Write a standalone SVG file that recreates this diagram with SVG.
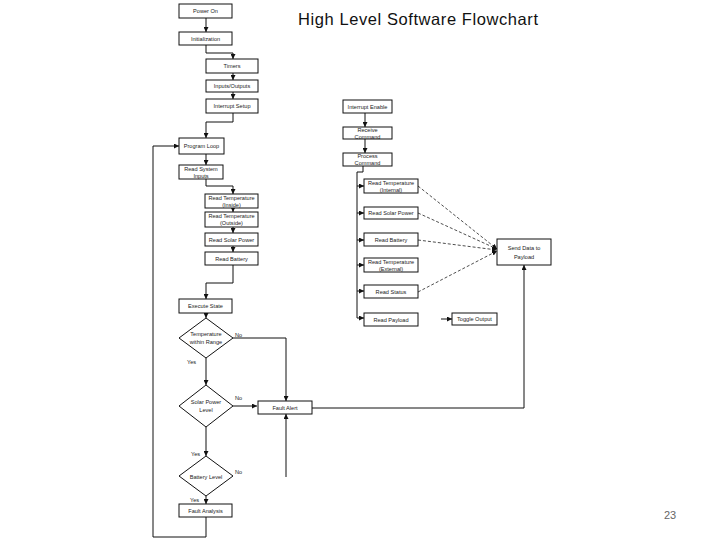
<svg xmlns="http://www.w3.org/2000/svg" width="720" height="540" viewBox="0 0 720 540">
<style>
  .box{fill:#fff;stroke:#111;stroke-width:1}
  .t{font-family:"Liberation Sans",Arial,sans-serif;font-size:5.6px;fill:#222;text-anchor:middle}
  .lbl{font-family:"Liberation Sans",Arial,sans-serif;font-size:5.6px;fill:#222}
  .c{fill:none;stroke:#111;stroke-width:1}
  .d{fill:none;stroke:#222;stroke-width:0.8;stroke-dasharray:3,2}
</style>
<defs>
  <marker id="a" viewBox="0 0 10 10" refX="10" refY="5" markerWidth="5" markerHeight="5" markerUnits="userSpaceOnUse" orient="auto">
    <path d="M0,0 L10,5 L0,10 z" fill="#111"/>
  </marker>
</defs>
<rect width="720" height="540" fill="#fff"/>
<text x="298" y="25" font-family="Liberation Sans,Arial,sans-serif" font-size="16.5" fill="#111" textLength="240">High Level Software Flowchart</text>
<text x="670" y="519" font-family="Liberation Sans,Arial,sans-serif" font-size="11" fill="#666" text-anchor="middle">23</text>

<g id="connectors">
  <path class="c" d="M206,18 V32" marker-end="url(#a)"/>
  <path class="c" d="M206,45 V53 H233 V59" marker-end="url(#a)"/>
  <path class="c" d="M233,73 V80" marker-end="url(#a)"/>
  <path class="c" d="M233,92 V99" marker-end="url(#a)"/>
  <path class="c" d="M233,113 V122 H206 V138" marker-end="url(#a)"/>
  <path class="c" d="M206,154 V165" marker-end="url(#a)"/>
  <path class="c" d="M206,179 V186 H233 V194" marker-end="url(#a)"/>
  <path class="c" d="M233,208 V212" marker-end="url(#a)"/>
  <path class="c" d="M233,227 V233" marker-end="url(#a)"/>
  <path class="c" d="M233,246 V252" marker-end="url(#a)"/>
  <path class="c" d="M233,265 V283 H206 V299" marker-end="url(#a)"/>
  <path class="c" d="M206,313 V318" marker-end="url(#a)"/>
  <path class="c" d="M233,338 H286 V401" marker-end="url(#a)"/>
  <path class="c" d="M206,358 V385" marker-end="url(#a)"/>
  <path class="c" d="M233,406 H257" marker-end="url(#a)"/>
  <path class="c" d="M206,427 V456" marker-end="url(#a)"/>
  <path class="c" d="M206,496 V504" marker-end="url(#a)"/>
  <path class="c" d="M206,517 V537 H153 V146 H179" marker-end="url(#a)"/>
  <path class="c" d="M286,477 V414" marker-end="url(#a)"/>
  <path class="c" d="M312,408 H524 V265" marker-end="url(#a)"/>
  <path class="c" d="M365,113 V127" marker-end="url(#a)"/>
  <path class="c" d="M365,139 V153" marker-end="url(#a)"/>
  <path class="c" d="M363,166 V172 H357 V318"/>
  <path class="c" d="M357,186 H364" marker-end="url(#a)"/>
  <path class="c" d="M357,213 H364" marker-end="url(#a)"/>
  <path class="c" d="M357,240 H364" marker-end="url(#a)"/>
  <path class="c" d="M357,265 H364" marker-end="url(#a)"/>
  <path class="c" d="M357,291 H364" marker-end="url(#a)"/>
  <path class="c" d="M357,318 H364" marker-end="url(#a)"/>
  <path class="c" d="M441,319 H452" marker-end="url(#a)"/>
  <path class="d" d="M418,186 L497,249" marker-end="url(#a)"/>
  <path class="d" d="M418,213 L497,249" marker-end="url(#a)"/>
  <path class="d" d="M418,240 L497,250" marker-end="url(#a)"/>
  <path class="d" d="M418,292 L497,251" marker-end="url(#a)"/>
</g>

<g id="power-on"><rect class="box" x="179" y="4" width="53" height="14"/><text class="t" x="205.5" y="13">Power On</text></g>
<g id="initialization"><rect class="box" x="179" y="32" width="53" height="13"/><text class="t" x="205.5" y="40.5">Initialization</text></g>
<g id="timers"><rect class="box" x="206" y="59" width="52" height="14"/><text class="t" x="232" y="68">Timers</text></g>
<g id="inputs-outputs"><rect class="box" x="206" y="80" width="52" height="12"/><text class="t" x="232" y="88">Inputs/Outputs</text></g>
<g id="interrupt-setup"><rect class="box" x="206" y="99" width="52" height="14"/><text class="t" x="232" y="108">Interrupt Setup</text></g>
<g id="program-loop"><rect class="box" x="179" y="138" width="45" height="16"/><text class="t" x="201.5" y="148">Program Loop</text></g>
<g id="read-system-inputs"><rect class="box" x="179" y="165" width="44" height="14"/><text class="t" x="201" y="170.5">Read System</text><text class="t" x="201" y="177.5">Inputs</text></g>
<g id="read-temp-inside"><rect class="box" x="205" y="194" width="53" height="14"/><text class="t" x="231.5" y="199.5">Read Temperature</text><text class="t" x="231.5" y="206.5">(Inside)</text></g>
<g id="read-temp-outside"><rect class="box" x="205" y="212" width="53" height="15"/><text class="t" x="231.5" y="217.5">Read Temperature</text><text class="t" x="231.5" y="225">(Outside)</text></g>
<g id="read-solar-power"><rect class="box" x="205" y="233" width="53" height="13"/><text class="t" x="231.5" y="241.5">Read Solar Power</text></g>
<g id="read-battery"><rect class="box" x="205" y="252" width="53" height="13"/><text class="t" x="231.5" y="260.5">Read Battery</text></g>
<g id="execute-state"><rect class="box" x="179" y="299" width="53" height="14"/><text class="t" x="205.5" y="308">Execute State</text></g>
<g id="temperature-range"><polygon class="box" points="206,318 233,338 206,358 179,338"/><text class="t" x="206" y="336">Temperature</text><text class="t" x="206" y="343.5">within Range</text></g>
<g id="solar-power-level"><polygon class="box" points="206,385 233,406 206,427 179,406"/><text class="t" x="206" y="404">Solar Power</text><text class="t" x="206" y="411.5">Level</text></g>
<g id="battery-level"><polygon class="box" points="206,456 233,476 206,496 179,476"/><text class="t" x="206" y="478.5">Battery Level</text></g>
<g id="fault-analysis"><rect class="box" x="179" y="504" width="53" height="13"/><text class="t" x="205.5" y="513">Fault Analysis</text></g>
<g id="fault-alert"><rect class="box" x="258" y="401" width="54" height="13"/><text class="t" x="285" y="409.5">Fault Alert</text></g>
<g id="interrupt-enable"><rect class="box" x="343" y="100" width="49" height="13"/><text class="t" x="367.5" y="108.5">Interrupt Enable</text></g>
<g id="receive-command"><rect class="box" x="343" y="127" width="49" height="12"/><text class="t" x="367.5" y="132">Receive</text><text class="t" x="367.5" y="138.5">Command</text></g>
<g id="process-command"><rect class="box" x="343" y="153" width="49" height="13"/><text class="t" x="367.5" y="158">Process</text><text class="t" x="367.5" y="164.5">Command</text></g>
<g id="read-temp-internal"><rect class="box" x="364" y="179" width="54" height="14"/><text class="t" x="391" y="184.5">Read Temperature</text><text class="t" x="391" y="191.5">(Internal)</text></g>
<g id="read-solar-power-2"><rect class="box" x="364" y="207" width="54" height="12"/><text class="t" x="391" y="215">Read Solar Power</text></g>
<g id="read-battery-2"><rect class="box" x="364" y="233" width="54" height="13"/><text class="t" x="391" y="241.5">Read Battery</text></g>
<g id="read-temp-external"><rect class="box" x="364" y="258" width="54" height="14"/><text class="t" x="391" y="263.5">Read Temperature</text><text class="t" x="391" y="270.5">(External)</text></g>
<g id="read-status"><rect class="box" x="364" y="285" width="54" height="13"/><text class="t" x="391" y="293.5">Read Status</text></g>
<g id="read-payload"><rect class="box" x="364" y="313" width="54" height="13"/><text class="t" x="391" y="321.5">Read Payload</text></g>
<g id="toggle-output"><rect class="box" x="452" y="313" width="45" height="12"/><text class="t" x="474.5" y="321">Toggle Output</text></g>
<g id="send-data"><rect class="box" x="497" y="239" width="54" height="26"/><text class="t" x="524" y="250">Send Data to</text><text class="t" x="524" y="258.5">Payload</text></g>

<g id="labels">
  <text class="lbl" x="235" y="337">No</text>
  <text class="lbl" x="187" y="364">Yes</text>
  <text class="lbl" x="235" y="400">No</text>
  <text class="lbl" x="191" y="456">Yes</text>
  <text class="lbl" x="235" y="474">No</text>
  <text class="lbl" x="190" y="502">Yes</text>
</g>
</svg>
